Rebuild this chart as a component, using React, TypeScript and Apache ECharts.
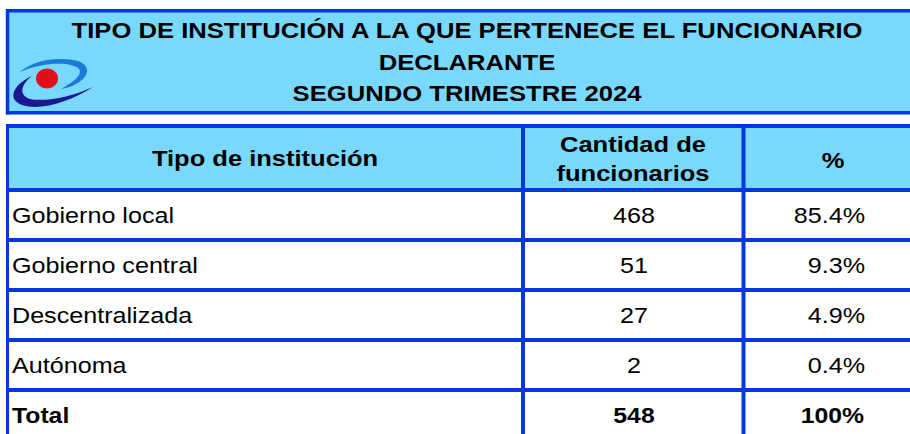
import React, { useEffect, useRef } from "react";
import * as echarts from "echarts";

const titleLines = [
  "TIPO DE INSTITUCIÓN A LA QUE PERTENECE EL FUNCIONARIO",
  "DECLARANTE",
  "SEGUNDO TRIMESTRE 2024",
];
const headerLabels = ["Tipo de institución", "Cantidad de\nfuncionarios", "%"];
const categories = ["Gobierno local", "Gobierno central", "Descentralizada", "Autónoma"];
const cantidades = [468, 51, 27, 2];
const porcentajes = [85.4, 9.3, 4.9, 0.4];
const totalLabel = "Total";
const totalCantidad = 548;
const totalPorcentaje = "100%";

const FILL = "#79d9fd";
const LINE = "#0337e2";
const FONT = "'Liberation Sans', Arial, sans-serif";

echarts.graphic.registerShape(
  "logoUpper",
  echarts.graphic.extendPath(
    "M 20 72 C 32 60 60 56 78 61 C 92 66 89 77 76 84 C 71 87 66 88 61 89 C 73 82 83 75 79 69 C 73 62 45 61 20 72 Z",
    {}
  )
);
echarts.graphic.registerShape(
  "logoLower",
  echarts.graphic.extendPath(
    "M 32 76 C 14 84 6 99 22 105 C 40 111 70 102 93 87 C 72 97 45 102 30 99 C 20 96 19 86 32 76 Z",
    {}
  )
);

export default function App() {
  const ref = useRef<HTMLDivElement>(null);
  useEffect(() => {
    document.body.style.margin = "0";
    const chart = echarts.init(ref.current!, undefined, { renderer: "svg" });
    const els: any[] = [];
    const right = 960;
    els.push({
      type: "rect",
      shape: { x: 7.5, y: 10.75, width: right, height: 102 },
      style: { fill: FILL, stroke: LINE, lineWidth: 3.5 },
    });
    els.push({
      type: "rect",
      shape: { x: 7.5, y: 126, width: right, height: 64 },
      style: { fill: FILL },
    });
    els.push({ type: "logoUpper", x: 0, y: 0, style: { fill: "#1c7ad8" } });
    els.push({ type: "logoLower", x: 0, y: 0, style: { fill: "#1a1990" } });
    els.push({ type: "ellipse", shape: { cx: 47, cy: 78.5, rx: 11, ry: 10 }, style: { fill: "#e10f1b" } });
    const titleY = [30.3, 61.8, 93.3];
    titleLines.forEach((t, i) => {
      els.push({
        type: "text",
        x: 467,
        y: titleY[i],
        scaleX: 1.165,
        style: { text: t, fontFamily: FONT, fontSize: 22, fontWeight: "bold", fill: "#000", align: "center", verticalAlign: "middle" },
      });
    });
    const rowLines = [126, 190, 240, 290, 340, 390];
    rowLines.forEach((y) => {
      els.push({ type: "line", shape: { x1: 6, y1: y, x2: right, y2: y }, style: { stroke: LINE, lineWidth: 4 } });
    });
    els.push({ type: "line", shape: { x1: 7.5, y1: 9, x2: 7.5, y2: 114.5 }, style: { stroke: LINE, lineWidth: 3 } });
    els.push({ type: "line", shape: { x1: 7.5, y1: 124, x2: 7.5, y2: 440 }, style: { stroke: LINE, lineWidth: 3 } });
    [523, 743.5].forEach((x) => {
      els.push({ type: "line", shape: { x1: x, y1: 124, x2: x, y2: 440 }, style: { stroke: LINE, lineWidth: 4 } });
    });
    const hdr = (text: string, x: number, y: number) => ({
      type: "text",
      x,
      y,
      scaleX: 1.16,
      style: { text, fontFamily: FONT, fontSize: 22, fontWeight: "bold", fill: "#000", align: "center", verticalAlign: "middle" },
    });
    els.push(hdr(headerLabels[0], 265, 158.5));
    const hl = headerLabels[1].split("\n");
    els.push(hdr(hl[0], 633, 144.5));
    els.push(hdr(hl[1], 633, 173.5));
    els.push(hdr(headerLabels[2], 833, 160));
    const cell = (text: string, x: number, y: number, align: string, bold = false) => ({
      type: "text",
      x,
      y,
      scaleX: bold ? 1.1 : 1.17,
      style: {
        text,
        fontFamily: FONT,
        fontSize: bold ? 22.5 : 21.5,
        fontWeight: bold ? "bold" : "normal",
        fill: "#000",
        align,
        verticalAlign: "middle",
      },
    });
    categories.forEach((c, i) => {
      const y = rowLines[i + 1] + 26;
      els.push(cell(c, 12, y, "left"));
      els.push(cell(String(cantidades[i]), 634, y, "center"));
      els.push(cell(porcentajes[i].toFixed(1) + "%", 865, y, "right"));
    });
    const ty = rowLines[5] + 25.5;
    els.push(cell(totalLabel, 12, ty, "left", true));
    els.push(cell(String(totalCantidad), 634, ty, "center", true));
    els.push(cell(totalPorcentaje, 864, ty, "right", true));

    chart.setOption({
      animation: false,
      backgroundColor: "#fff",
      graphic: { elements: els },
    });
    return () => chart.dispose();
  }, []);
  return <div ref={ref} style={{ width: 910, height: 434, position: "absolute", left: 0, top: 0 }} />;
}
